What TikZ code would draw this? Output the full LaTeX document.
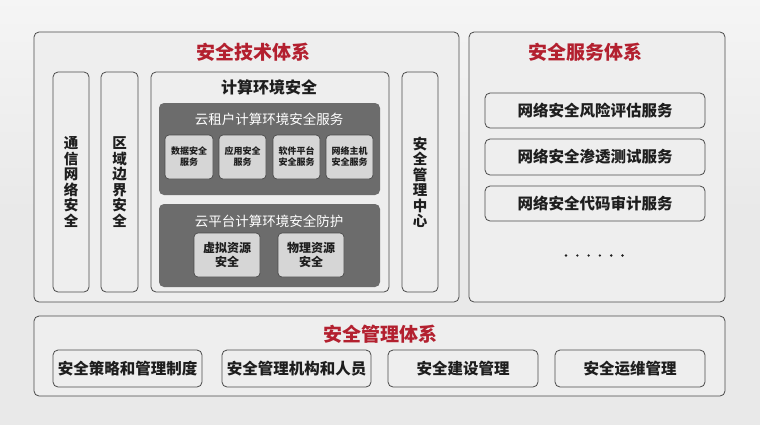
\documentclass[tikz,border=0pt]{standalone}
\usepackage{fontspec}
\setmainfont{Noto Sans CJK SC}
\definecolor{bgc}{HTML}{E9E9E9}
\definecolor{edge}{HTML}{4A4A4A}
\definecolor{boxc}{HTML}{EEEEEE}
\definecolor{darkc}{HTML}{6C6C6C}
\definecolor{smallc}{HTML}{D6D6D6}
\definecolor{titlered}{HTML}{B3202F}
\definecolor{txt}{HTML}{1E1E1E}
\tikzset{
  panel/.style={draw=edge, line width=0.8pt, rounded corners=5pt, fill=boxc, inner sep=0pt},
  darkbox/.style={fill=darkc, rounded corners=5pt, inner sep=0pt},
  smallbox/.style={draw=edge, line width=0.7pt, rounded corners=4pt, fill=smallc, inner sep=0pt, align=center, text=txt, font=\bfseries},
  itembox/.style={draw=edge, line width=0.8pt, rounded corners=5pt, fill=boxc, inner sep=0pt, text=txt, font=\bfseries\fontsize{15.5}{17}\selectfont},
  maintitle/.style={text=titlered, font=\bfseries\fontsize{19}{21}\selectfont, inner sep=0pt},
  vtext/.style={text=txt, font=\bfseries\fontsize{14.5}{15.5}\selectfont, align=center, inner sep=0pt},
  dotmark/.style={fill=txt, draw=none},
}
\begin{document}
\begin{tikzpicture}[x=1pt,y=-1pt]
\shade[top color=white!92!gray, bottom color=bgc, middle color=bgc] (0,0) rectangle (760,424);
\useasboundingbox (0,0) rectangle (760,424);

% outer panels
\node[panel, minimum width=425pt, minimum height=270pt] (tech) at (246.5,167) {};
\node[panel, minimum width=256pt, minimum height=270pt] (serv) at (597,167) {};
\node[panel, minimum width=691pt, minimum height=80pt] (mgmt) at (379.5,356) {};

\node[maintitle] (techT) at (253,52) {安全技术体系};
\node[maintitle] (servT) at (585,52) {安全服务体系};
\node[maintitle] (mgmtT) at (380,334) {安全管理体系};

% vertical boxes
\node[panel, minimum width=36pt, minimum height=220pt] (v1) at (71,182) {};
\node[vtext] (v1t) at (71,182) {通\\信\\网\\络\\安\\全};
\node[panel, minimum width=37pt, minimum height=220pt] (v2) at (119.5,182) {};
\node[vtext] (v2t) at (119.5,182) {区\\域\\边\\界\\安\\全};
\node[panel, minimum width=36pt, minimum height=220pt] (v3) at (420,182) {};
\node[vtext] (v3t) at (420,182.5) {安\\全\\管\\理\\中\\心};

% compute environment
\node[panel, minimum width=238pt, minimum height=220pt] (comp) at (270,182) {};
\node[text=txt, font=\bfseries\fontsize{16}{18}\selectfont, inner sep=0pt] (compT) at (269,87) {计算环境安全};

\node[darkbox, minimum width=221pt, minimum height=92pt] (d1) at (269.5,149) {};
\node[text=white, font=\fontsize{13.5}{15}\selectfont, inner sep=0pt] (d1T) at (269,119) {云租户计算环境安全服务};
\node[smallbox, minimum width=48pt, minimum height=44pt, font=\bfseries\fontsize{9}{11}\selectfont] (s1) at (189,157) {数据安全\\服务};
\node[smallbox, minimum width=47pt, minimum height=44pt, font=\bfseries\fontsize{9}{11}\selectfont] (s2) at (242.5,157) {应用安全\\服务};
\node[smallbox, minimum width=47pt, minimum height=44pt, font=\bfseries\fontsize{9}{11}\selectfont] (s3) at (296.5,157) {软件平台\\安全服务};
\node[smallbox, minimum width=47pt, minimum height=44pt, font=\bfseries\fontsize{9}{11}\selectfont] (s4) at (349.5,157) {网络主机\\安全服务};

\node[darkbox, minimum width=221pt, minimum height=83pt] (d2) at (269.5,245.5) {};
\node[text=white, font=\fontsize{13.5}{15}\selectfont, inner sep=0pt] (d2T) at (269,221) {云平台计算环境安全防护};
\node[smallbox, minimum width=66pt, minimum height=44pt, font=\bfseries\fontsize{12}{14}\selectfont] (p1) at (227,255) {虚拟资源\\安全};
\node[smallbox, minimum width=66pt, minimum height=44pt, font=\bfseries\fontsize{12}{14}\selectfont] (p2) at (311,255) {物理资源\\安全};

% service items
\node[itembox, minimum width=220pt, minimum height=35pt] (r1) at (595,110.5) {网络安全风险评估服务};
\node[itembox, minimum width=220pt, minimum height=36pt] (r2) at (595,157) {网络安全渗透测试服务};
\node[itembox, minimum width=220pt, minimum height=35pt] (r3) at (595,203.5) {网络安全代码审计服务};
\foreach \i in {0,...,5} {
  \fill[dotmark] (566+11.3*\i,255.5) circle (1.3pt);
}

% management items
\node[itembox, minimum width=149pt, minimum height=37pt] (m1) at (127.5,368.5) {安全策略和管理制度};
\node[itembox, minimum width=149pt, minimum height=37pt] (m2) at (296.5,368.5) {安全管理机构和人员};
\node[itembox, minimum width=150pt, minimum height=37pt] (m3) at (463,368.5) {安全建设管理};
\node[itembox, minimum width=150pt, minimum height=37pt] (m4) at (630,368.5) {安全运维管理};
\end{tikzpicture}
\end{document}
